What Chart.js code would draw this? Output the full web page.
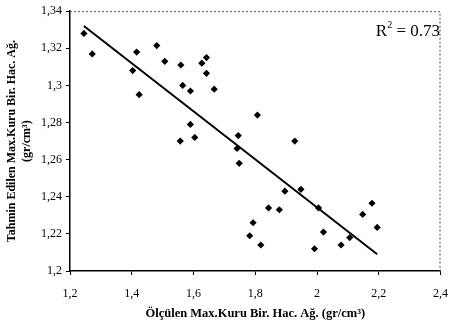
<!DOCTYPE html>
<html>
<head>
<meta charset="utf-8">
<script src="https://cdn.jsdelivr.net/npm/chart.js@4"></script>
<style>
  html, body { margin: 0; padding: 0; background: #fff; }
  #wrap { width: 460px; height: 323px; position: relative; }
</style>
</head>
<body>
<div id="wrap"><canvas id="c"></canvas></div>
<script>
// Measured (x) and predicted (y) maximum dry unit weight, gr/cm3
const measured = [
  1.245, 1.272, 1.403, 1.416, 1.424, 1.481, 1.507, 1.559, 1.565, 1.590,
  1.590, 1.557, 1.604, 1.627, 1.642, 1.642, 1.667, 1.807, 1.745, 1.741,
  1.748, 1.793, 1.782, 1.818, 1.843, 1.878, 1.896, 1.928, 1.948, 1.992,
  2.005, 2.021, 2.078, 2.106, 2.148, 2.178, 2.195
];
const predicted = [
  1.328, 1.317, 1.308, 1.318, 1.295, 1.3215, 1.313, 1.311, 1.300, 1.297,
  1.279, 1.270, 1.272, 1.312, 1.315, 1.3065, 1.298, 1.284, 1.273, 1.266,
  1.258, 1.226, 1.219, 1.214, 1.234, 1.233, 1.243, 1.270, 1.244, 1.212,
  1.234, 1.221, 1.214, 1.218, 1.2305, 1.2365, 1.2235
];

// Linear trend line end points
const trendX = [1.245, 2.195];
const trendY = [1.332, 1.209];

const xTicks = [1.2, 1.4, 1.6, 1.8, 2.0, 2.2, 2.4];
const yTicks = [1.2, 1.22, 1.24, 1.26, 1.28, 1.3, 1.32, 1.34];
const r2Value = '0.73';

const xTitle = 'Ölçülen Max.Kuru Bir. Hac. Ağ. (gr/cm³)';
const yTitle = ['Tahmin Edilen Max.Kuru Bir. Hac. Ağ.', '(gr/cm³)'];

const SERIF = '"Liberation Serif", "Times New Roman", serif';
const fmt = v => String(Number(v.toFixed(2))).replace('.', ',');

const scatterPts = measured.map((x, i) => ({ x, y: predicted[i] }));
const trendPts = trendX.map((x, i) => ({ x, y: trendY[i] }));

// Dashed frame on the top and right edges + the R² annotation
const framePlugin = {
  id: 'frameAndR2',
  afterDraw(chart) {
    const { ctx, chartArea: a } = chart;
    ctx.save();
    ctx.strokeStyle = '#555';
    ctx.lineWidth = 1;
    ctx.setLineDash([2, 2]);
    ctx.beginPath();
    ctx.moveTo(a.left, a.top + 0.5);
    ctx.lineTo(a.right - 0.5, a.top + 0.5);
    ctx.lineTo(a.right - 0.5, a.bottom);
    ctx.stroke();
    ctx.setLineDash([]);

    // R² = 0.73
    const base = 36;
    const endX = 440;
    ctx.fillStyle = '#000';
    ctx.textBaseline = 'alphabetic';
    ctx.font = '17px ' + SERIF;
    const rest = ' = ' + r2Value;
    const wR = ctx.measureText('R').width;
    const wRest = ctx.measureText(rest).width;
    ctx.font = '10px ' + SERIF;
    const wSup = ctx.measureText('2').width;
    let x = endX - wRest - wSup - wR;
    ctx.font = '17px ' + SERIF;
    ctx.fillText('R', x, base);
    x += wR;
    ctx.font = '10px ' + SERIF;
    ctx.fillText('2', x, base - 8);
    x += wSup;
    ctx.font = '17px ' + SERIF;
    ctx.fillText(rest, x, base);
    ctx.restore();
  }
};

new Chart(document.getElementById('c'), {
  type: 'scatter',
  data: {
    datasets: [
      {
        label: 'Veri',
        data: scatterPts,
        pointStyle: 'rectRot',
        pointRadius: 3.6,
        pointHoverRadius: 3.6,
        backgroundColor: '#000',
        borderColor: '#000',
        borderWidth: 0
      },
      {
        label: 'Doğrusal',
        type: 'line',
        data: trendPts,
        borderColor: '#000',
        borderWidth: 2,
        pointRadius: 0,
        fill: false,
        tension: 0
      }
    ]
  },
  options: {
    responsive: true,
    maintainAspectRatio: false,
    animation: false,
    events: [],
    layout: { padding: { left: 0, top: 9, right: 11, bottom: 0 } },
    plugins: {
      legend: { display: false },
      tooltip: { enabled: false }
    },
    scales: {
      x: {
        type: 'linear',
        min: 1.2,
        max: 2.4,
        afterBuildTicks: s => { s.ticks = xTicks.map(v => ({ value: v })); },
        afterFit: s => { s.height = 52; },
        grid: { display: true, drawOnChartArea: false, drawTicks: true, tickLength: 4, color: '#000' },
        border: { display: true, color: '#000', width: 1.5 },
        ticks: {
          padding: 12,
          maxRotation: 0,
          color: '#000',
          font: { family: SERIF, size: 12 },
          callback: v => fmt(v)
        },
        title: {
          display: true,
          text: xTitle,
          color: '#000',
          font: { family: SERIF, size: 12.5, weight: 'bold' },
          padding: { top: 0, bottom: 2 }
        }
      },
      y: {
        type: 'linear',
        min: 1.2,
        max: 1.34,
        afterBuildTicks: s => { s.ticks = yTicks.map(v => ({ value: v })); },
        afterFit: s => { s.width = 70; },
        grid: { display: true, drawOnChartArea: false, drawTicks: true, tickLength: 4, color: '#000' },
        border: { display: true, color: '#000', width: 1.5 },
        ticks: {
          padding: 4,
          color: '#000',
          font: { family: SERIF, size: 12 },
          callback: v => fmt(v)
        },
        title: {
          display: true,
          text: yTitle,
          color: '#000',
          font: { family: SERIF, size: 12, weight: 'bold' },
          padding: { top: 5, bottom: 0 }
        }
      }
    }
  },
  plugins: [framePlugin]
});
</script>
</body>
</html>
